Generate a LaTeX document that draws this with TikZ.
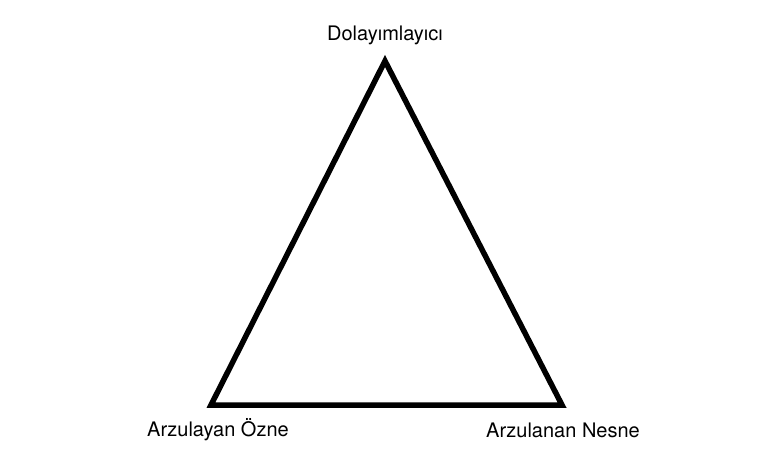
\documentclass[tikz,border=0pt]{standalone}
\usepackage{fontspec}
\setmainfont{TeX Gyre Heros}
\begin{document}
\begin{tikzpicture}[x=1pt,y=-1pt,
  lbl/.style={font=\fontsize{20}{24}\selectfont, inner sep=0pt, anchor=center},
  edge/.style={line width=5.5pt, line join=miter, black}]
\useasboundingbox (0,0) rectangle (770,468);
\coordinate (top) at (385,61);
\coordinate (bl) at (211,405);
\coordinate (br) at (562,405);
\draw[edge] (top) -- (bl) -- (br) -- cycle;
\node[lbl] (t) at (385,35) {Dolayımlayıcı};
\node[lbl] (l) at (218,430) {Arzulayan Özne};
\node[lbl] (r) at (563,430) {Arzulanan Nesne};
\end{tikzpicture}
\end{document}
